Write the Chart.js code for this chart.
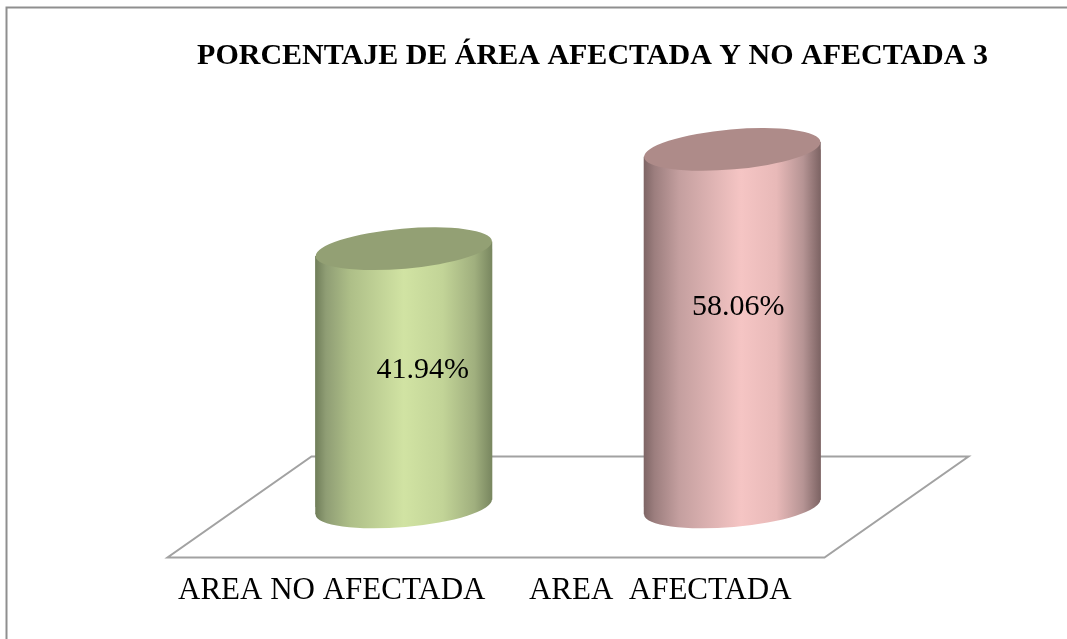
<!DOCTYPE html>
<html><head><meta charset="utf-8">
<style>html,body{margin:0;padding:0;background:#fff}canvas{display:block}</style>
<script src="https://cdn.jsdelivr.net/npm/chart.js@4"></script>
</head><body><canvas id="c" width="1067" height="639"></canvas>
<script>
const categories = ['AREA NO AFECTADA', 'AREA  AFECTADA'];
const values = [41.94, 58.06];
const valueLabels = ['41.94%', '58.06%'];
const chartTitle = 'PORCENTAJE DE ÁREA AFECTADA Y NO AFECTADA 3';
const bodyStops = [
  [[0,'#707e59'],[0.06,'#8f9d74'],[0.2,'#aebf88'],[0.5,'#d1e3a3'],[0.72,'#c2d497'],[0.9,'#a0af7e'],[1,'#78865f']],
  [[0,'#7e6565'],[0.06,'#9c7e7e'],[0.2,'#c49f9f'],[0.55,'#f5c5c4'],[0.75,'#e8b9b8'],[0.9,'#b69494'],[1,'#7c6363']]
];
const capColors = ['#93a074', '#ae8b89'];
const depthX = 144, depthY = -101;
const labelShift = [[19, -8], [6, -21]];
const barShare = 177 / 328.5;
const capMinor = 20, capTilt = 5 * Math.PI / 180;
const font = '"Liberation Serif","Times New Roman",serif';

function bodyFill(ctx, cx, hw, i) {
  const g = ctx.createLinearGradient(cx - hw, 0, cx + hw, 0);
  bodyStops[i].forEach(s => g.addColorStop(s[0], s[1]));
  return g;
}
function cap(ctx, x, y, hw, fill) {
  ctx.beginPath();
  ctx.ellipse(x, y, hw, capMinor, -capTilt, 0, Math.PI * 2);
  ctx.fillStyle = fill;
  ctx.fill();
}
// vertical offset of the ellipse's left/right extreme from its centre
function edgeDrop(hw) {
  const s = Math.sin(capTilt), co = Math.cos(capTilt);
  const ext = Math.sqrt(hw * hw * co * co + capMinor * capMinor * s * s);
  return (hw * hw - capMinor * capMinor) * s * co / ext;
}
function sidePath(ctx, el) {
  const hw = el.width / 2, d = edgeDrop(hw);
  ctx.moveTo(el.x - hw, el.y + d);
  ctx.lineTo(el.x + hw, el.y - d);
  ctx.lineTo(el.x + hw, el.base - d);
  ctx.lineTo(el.x - hw, el.base + d);
  ctx.closePath();
}
const cylinderPlugin = {
  id: 'cylinder',
  afterLayout(chart) {
    chart.titleBlock.left = 195;
    chart.titleBlock.right = 990;
  },
  beforeDraw(chart) {
    const c = chart.ctx;
    c.save();
    c.strokeStyle = '#8f8f8f';
    c.lineWidth = 2;
    c.beginPath();
    c.moveTo(6.5, 639);
    c.lineTo(6.5, 7.5);
    c.lineTo(1067, 7.5);
    c.stroke();
    c.restore();
  },
  beforeDatasetsDraw(chart) {
    const c = chart.ctx, a = chart.chartArea;
    c.save();
    c.strokeStyle = '#a2a2a2';
    c.lineWidth = 2;
    c.beginPath();
    c.moveTo(a.left, a.bottom);
    c.lineTo(a.right, a.bottom);
    c.lineTo(a.right + depthX, a.bottom + depthY);
    c.lineTo(a.left + depthX, a.bottom + depthY);
    c.closePath();
    c.stroke();
    c.restore();
  },
  beforeDatasetDraw(chart) {
    const c = chart.ctx;
    const els = chart.getDatasetMeta(0).data;
    c.save();
    c.translate(depthX / 2, depthY / 2);
    els.forEach((el, i) => {
      const fill = bodyFill(c, el.x, el.width / 2, i);
      cap(c, el.x, el.base, el.width / 2, fill);
      c.beginPath();
      sidePath(c, el);
      c.fillStyle = fill;
      c.fill();
    });
    c.save();
    c.beginPath();
    els.forEach(el => sidePath(c, el));
    c.clip();
  },
  afterDatasetDraw(chart) {
    const c = chart.ctx;
    const els = chart.getDatasetMeta(0).data;
    c.restore();
    els.forEach((el, i) => cap(c, el.x, el.y, el.width / 2, capColors[i]));
    c.restore();
    c.save();
    c.fillStyle = '#000';
    c.font = '30px ' + font;
    c.textAlign = 'center';
    c.textBaseline = 'middle';
    els.forEach((el, i) => {
      const x = el.x + depthX / 2 + labelShift[i][0];
      const y = (el.y + el.base + depthY) / 2 + labelShift[i][1];
      c.fillText(valueLabels[i], x, y);
    });
    c.restore();
  }
};
new Chart(document.getElementById('c'), {
  type: 'bar',
  data: {
    labels: categories,
    datasets: [{
      data: values,
      clip: false,
      borderWidth: 0,
      backgroundColor: (ctx) => {
        const s = ctx.chart.scales.x;
        if (!s || !ctx.chart.chartArea) return '#ccc';
        const hw = s.width / categories.length * barShare / 2;
        return bodyFill(ctx.chart.ctx, s.getPixelForTick(ctx.dataIndex), hw, ctx.dataIndex);
      },
      categoryPercentage: barShare,
      barPercentage: 1
    }]
  },
  options: {
    responsive: false,
    animation: false,
    layout: { padding: { left: 167.5, right: 242.5, top: 0, bottom: 0 } },
    plugins: {
      legend: { display: false },
      tooltip: { enabled: false },
      title: {
        display: true,
        text: chartTitle,
        color: '#000',
        font: { family: font, size: 30, weight: 'bold', lineHeight: 1.2 },
        padding: { top: 38, bottom: 52.4 }
      }
    },
    scales: {
      x: {
        grid: { display: false },
        border: { display: false },
        ticks: { color: '#000', font: { family: font, size: 31 }, padding: 7, maxRotation: 0, autoSkip: false },
        afterFit(s) { s.height = 81.5; }
      },
      y: { display: false, min: 0, max: 70 }
    }
  },
  plugins: [cylinderPlugin]
});
</script></body></html>
